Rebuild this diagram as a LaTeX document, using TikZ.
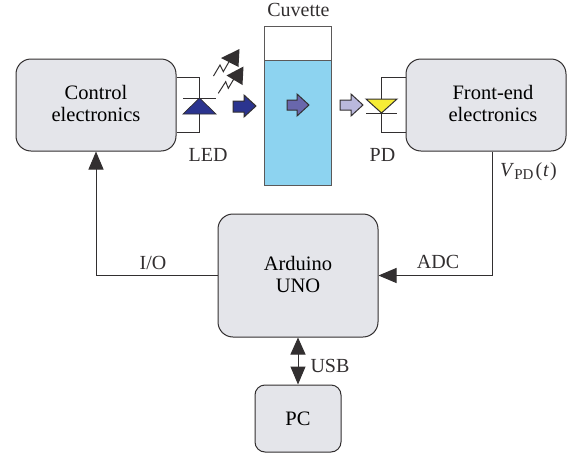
\documentclass[tikz,border=0pt]{standalone}
\usepackage{fontspec}
\setmainfont{Liberation Serif}
\usetikzlibrary{arrows.meta}
\definecolor{blockfill}{RGB}{228,229,234}
\definecolor{liquid}{RGB}{141,211,240}
\definecolor{ledblue}{RGB}{43,52,143}
\definecolor{midblue}{RGB}{105,103,172}
\definecolor{lightblue}{RGB}{186,184,220}
\definecolor{pdyellow}{RGB}{246,236,54}
\definecolor{ink}{RGB}{50,47,48}
\newcommand{\liftline}[1]{\raisebox{2.5pt}{#1}}
\tikzset{
  x=1pt,y=-1pt,
  blockbox/.style={draw=ink,line width=1pt,fill=blockfill,rounded corners=15pt,align=center,inner sep=0pt,font=\fontsize{20.5}{22}\selectfont},
  wire/.style={draw=ink,line width=1pt},
  flow/.style={wire,-{Triangle[length=18pt,width=15pt]}},
  flowboth/.style={wire,{Triangle[length=17pt,width=15pt]}-{Triangle[length=18pt,width=15pt]}},
  tag/.style={font=\fontsize{20}{24}\selectfont,text=ink,inner sep=0pt},
  beam/.style={draw=ink,line width=1pt,line join=miter},
  glass/.style={draw=ink!80,line width=1pt},
}
\begin{document}
\begin{tikzpicture}
\useasboundingbox (0,0) rectangle (582,453);
% blocks
\node[blockbox,minimum width=160pt,minimum height=92pt] (ctl) at (96,105) {\liftline{Control}\\\liftline{electronics}};
\node[blockbox,minimum width=160pt,minimum height=92pt] (fe) at (486,105) {\hspace*{14pt}\liftline{Front-end}\\\hspace*{14pt}\liftline{electronics}};
\node[blockbox,minimum width=160pt,minimum height=123pt] (uno) at (298,275.5) {\liftline{Arduino}\\\liftline{UNO}};
\node[blockbox,minimum width=86pt,minimum height=67pt,rounded corners=10pt] (pc) at (298,418.5) {PC};
% cuvette
\path[fill=liquid] (264,60) rectangle (331,185);
\draw[glass] (264,26) rectangle (331,185);
\draw[glass] (264,60) -- (331,60);
\node[tag] (cuv) at (298.5,10) {Cuvette};
% connectors
\coordinate (vp) at (492.5,200);
\draw[flow] (uno.west) -| (ctl.south);
\draw[flow] (fe.south -| vp) |- (uno.east);
\draw[flowboth] (uno.south -| pc.north) -- (pc.north);
% LED
\coordinate (la) at (199.5,98);
\coordinate (lb) at (199.5,114);
\draw[wire] (ctl.east |- 0,77) -- (199.5,77) -- (la);
\draw[wire] (lb) -- (199.5,132) -- (ctl.east |- 0,132);
\draw[wire,fill=ledblue,line width=.7pt] (183,114) -- (la) -- (216,114) -- cycle;
\draw[wire] (183,98) -- (216,98);
% light rays
\draw[beam] (213.5,76) -- (220,65) -- (223.3,71.7) -- (230,60);
\fill[ink] (239.5,49) -- (221,58) -- (238.5,67) -- cycle;
\draw[beam] (218.3,93.3) -- (225.7,81.7) -- (228.3,88.3) -- (235,77);
\fill[ink] (243.5,66.5) -- (226.5,75.5) -- (242.5,85) -- cycle;
% beam arrows
\draw[ink,line width=1pt,fill=ledblue] (233,101) -- (244,101) -- (244,95) -- (256,106) -- (244,117) -- (244,112) -- (233,112) -- cycle;
\draw[ink,line width=1pt,fill=midblue] (287,100) -- (297,100) -- (297,94) -- (309,105) -- (297,116) -- (297,110) -- (287,110) -- cycle;
\draw[ink,line width=1pt,fill=lightblue] (340,100) -- (351,100) -- (351,94) -- (363,105) -- (351,116) -- (351,110) -- (340,110) -- cycle;
% PD
\coordinate (pa) at (381.5,99);
\coordinate (pb) at (381.5,113);
\draw[wire] (fe.west |- 0,77) -- (381.5,77) -- (pa);
\draw[wire] (pb) -- (381.5,132) -- (fe.west |- 0,132);
\draw[wire,fill=pdyellow,line width=1pt] (366,99) -- (397,99) -- (pb) -- cycle;
\draw[wire] (366,113) -- (397,113);
% labels
\node[tag] (led) at (208,155) {LED};
\node[tag] (pd) at (382.5,155) {PD};
\node[tag] (io) at (153,263) {I/O};
\node[tag] (adc) at (438,262) {ADC};
\node[tag] (usb) at (330,366) {USB};
\node[tag,anchor=west] (vpd) at (500,172) {\textit{V}\raisebox{-3pt}{\fontsize{15}{18}\selectfont PD}\kern2pt(\kern1pt\textit{t}\kern1pt)};
\end{tikzpicture}
\end{document}
